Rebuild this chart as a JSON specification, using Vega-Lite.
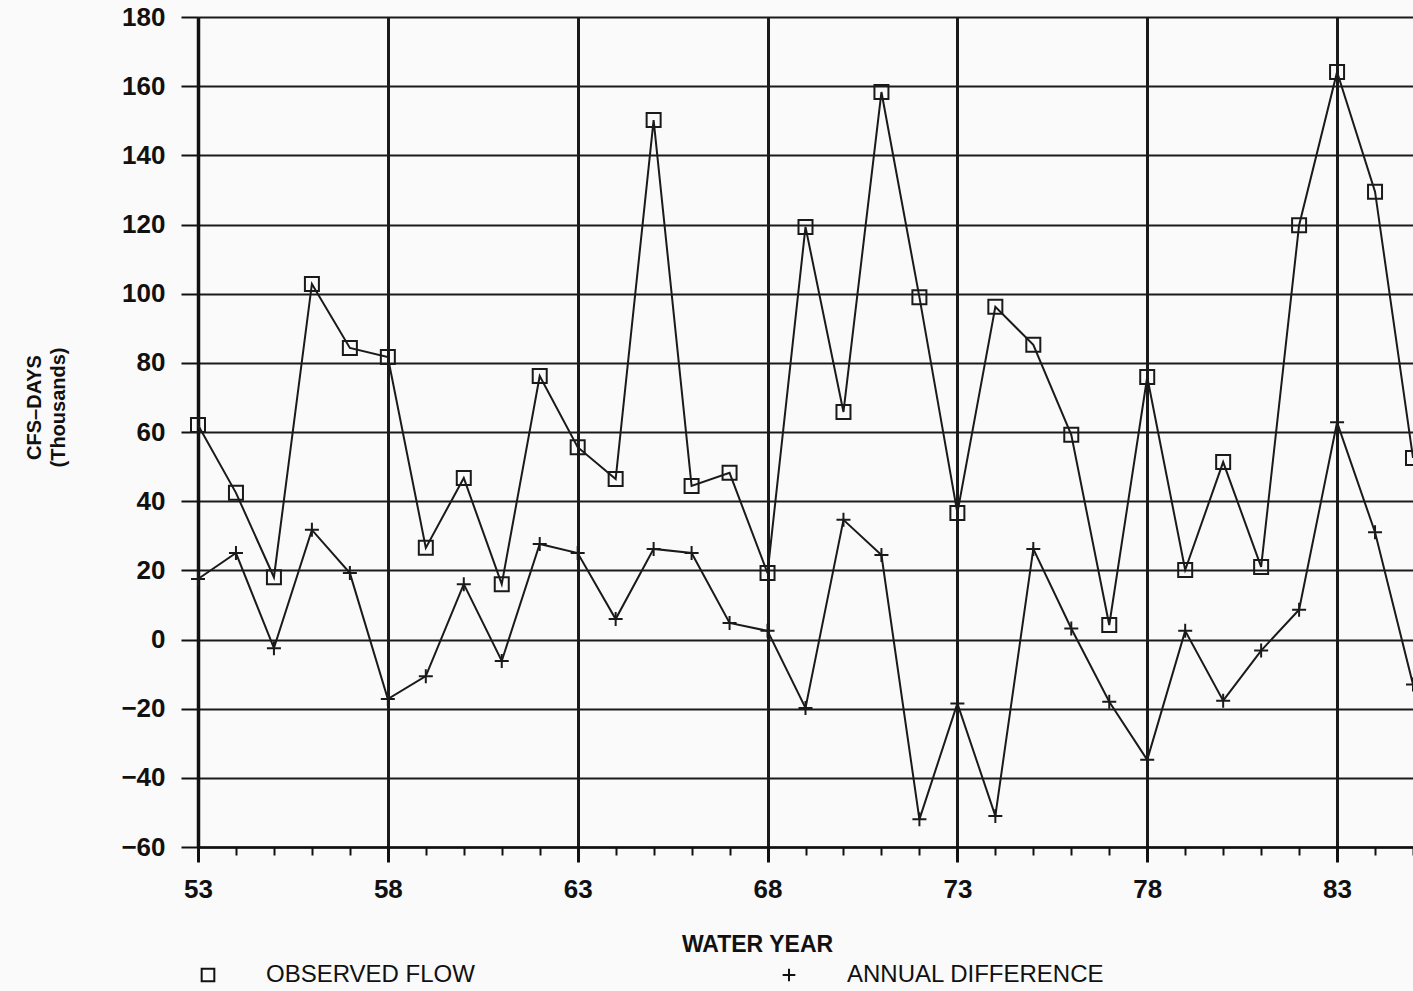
{
  "$schema": "https://vega.github.io/schema/vega-lite/v6.json",
  "width": 1215,
  "height": 830,
  "autosize": {"type": "none"},
  "padding": {"left": 198, "top": 17, "right": 0, "bottom": 144},
  "background": "#fafafa",
  "config": {
    "view": {"stroke": null},
    "font": "Liberation Sans",
    "axis": {"labelColor": "#111", "titleColor": "#111", "domainColor": "#111", "tickColor": "#111", "gridColor": "#1a1a1a"}
  },
  "data": {
    "values": [
      {"year": 53, "series": "OBSERVED FLOW", "value": 62},
      {"year": 54, "series": "OBSERVED FLOW", "value": 42.4},
      {"year": 55, "series": "OBSERVED FLOW", "value": 18},
      {"year": 56, "series": "OBSERVED FLOW", "value": 102.8},
      {"year": 57, "series": "OBSERVED FLOW", "value": 84.3},
      {"year": 58, "series": "OBSERVED FLOW", "value": 81.7},
      {"year": 59, "series": "OBSERVED FLOW", "value": 26.5},
      {"year": 60, "series": "OBSERVED FLOW", "value": 46.7},
      {"year": 61, "series": "OBSERVED FLOW", "value": 16},
      {"year": 62, "series": "OBSERVED FLOW", "value": 76.2},
      {"year": 63, "series": "OBSERVED FLOW", "value": 55.6},
      {"year": 64, "series": "OBSERVED FLOW", "value": 46.4},
      {"year": 65, "series": "OBSERVED FLOW", "value": 150.2},
      {"year": 66, "series": "OBSERVED FLOW", "value": 44.4},
      {"year": 67, "series": "OBSERVED FLOW", "value": 48.2},
      {"year": 68, "series": "OBSERVED FLOW", "value": 19.2},
      {"year": 69, "series": "OBSERVED FLOW", "value": 119.3},
      {"year": 70, "series": "OBSERVED FLOW", "value": 65.8},
      {"year": 71, "series": "OBSERVED FLOW", "value": 158.3},
      {"year": 72, "series": "OBSERVED FLOW", "value": 99},
      {"year": 73, "series": "OBSERVED FLOW", "value": 36.6},
      {"year": 74, "series": "OBSERVED FLOW", "value": 96.2},
      {"year": 75, "series": "OBSERVED FLOW", "value": 85.2},
      {"year": 76, "series": "OBSERVED FLOW", "value": 59.2},
      {"year": 77, "series": "OBSERVED FLOW", "value": 4.2},
      {"year": 78, "series": "OBSERVED FLOW", "value": 75.9},
      {"year": 79, "series": "OBSERVED FLOW", "value": 20.1},
      {"year": 80, "series": "OBSERVED FLOW", "value": 51.3},
      {"year": 81, "series": "OBSERVED FLOW", "value": 21},
      {"year": 82, "series": "OBSERVED FLOW", "value": 119.8},
      {"year": 83, "series": "OBSERVED FLOW", "value": 164.1},
      {"year": 84, "series": "OBSERVED FLOW", "value": 129.5},
      {"year": 85, "series": "OBSERVED FLOW", "value": 52.5},
      {"year": 53, "series": "ANNUAL DIFFERENCE", "value": 17.5},
      {"year": 54, "series": "ANNUAL DIFFERENCE", "value": 25},
      {"year": 55, "series": "ANNUAL DIFFERENCE", "value": -2.5},
      {"year": 56, "series": "ANNUAL DIFFERENCE", "value": 31.7},
      {"year": 57, "series": "ANNUAL DIFFERENCE", "value": 19.2},
      {"year": 58, "series": "ANNUAL DIFFERENCE", "value": -17.2},
      {"year": 59, "series": "ANNUAL DIFFERENCE", "value": -10.6},
      {"year": 60, "series": "ANNUAL DIFFERENCE", "value": 16},
      {"year": 61, "series": "ANNUAL DIFFERENCE", "value": -6.2},
      {"year": 62, "series": "ANNUAL DIFFERENCE", "value": 27.6},
      {"year": 63, "series": "ANNUAL DIFFERENCE", "value": 25},
      {"year": 64, "series": "ANNUAL DIFFERENCE", "value": 5.9},
      {"year": 65, "series": "ANNUAL DIFFERENCE", "value": 26.2},
      {"year": 66, "series": "ANNUAL DIFFERENCE", "value": 25},
      {"year": 67, "series": "ANNUAL DIFFERENCE", "value": 4.8},
      {"year": 68, "series": "ANNUAL DIFFERENCE", "value": 2.5},
      {"year": 69, "series": "ANNUAL DIFFERENCE", "value": -19.8},
      {"year": 70, "series": "ANNUAL DIFFERENCE", "value": 34.6},
      {"year": 71, "series": "ANNUAL DIFFERENCE", "value": 24.4},
      {"year": 72, "series": "ANNUAL DIFFERENCE", "value": -52},
      {"year": 73, "series": "ANNUAL DIFFERENCE", "value": -18.5},
      {"year": 74, "series": "ANNUAL DIFFERENCE", "value": -51},
      {"year": 75, "series": "ANNUAL DIFFERENCE", "value": 26.2},
      {"year": 76, "series": "ANNUAL DIFFERENCE", "value": 3.2},
      {"year": 77, "series": "ANNUAL DIFFERENCE", "value": -18},
      {"year": 78, "series": "ANNUAL DIFFERENCE", "value": -34.8},
      {"year": 79, "series": "ANNUAL DIFFERENCE", "value": 2.5},
      {"year": 80, "series": "ANNUAL DIFFERENCE", "value": -17.7},
      {"year": 81, "series": "ANNUAL DIFFERENCE", "value": -3.2},
      {"year": 82, "series": "ANNUAL DIFFERENCE", "value": 8.6},
      {"year": 83, "series": "ANNUAL DIFFERENCE", "value": 62.8},
      {"year": 84, "series": "ANNUAL DIFFERENCE", "value": 31},
      {"year": 85, "series": "ANNUAL DIFFERENCE", "value": -13}
    ]
  },
  "layer": [
    {
      "mark": {"type": "line", "color": "#1a1a1a", "strokeWidth": 2},
      "encoding": {
        "x": {
          "field": "year", "type": "quantitative",
          "scale": {"domain": [53, 85], "nice": false, "zero": false},
          "axis": {
            "orient": "bottom",
            "values": [53, 58, 63, 68, 73, 78, 83],
            "grid": true, "gridWidth": 3,
            "domainWidth": 2.5,
            "tickSize": 15, "tickWidth": 3,
            "labelFontSize": 26, "labelFontWeight": "bold", "labelPadding": 14, "labelFlush": false,
            "title": "WATER YEAR", "titleFontSize": 23, "titleFontWeight": "bold",
            "titleX": 559, "titleY": 86, "titleAlign": "center", "titleBaseline": "top"
          }
        },
        "y": {
          "field": "value", "type": "quantitative",
          "scale": {"domain": [-60, 180], "nice": false},
          "axis": {
            "values": [-60, -40, -20, 0, 20, 40, 60, 80, 100, 120, 140, 160, 180],
            "grid": true, "gridWidth": 2,
            "domainWidth": 3.5,
            "tickSize": 17, "tickWidth": 2,
            "labelFontSize": 26, "labelFontWeight": "bold", "labelPadding": 16,
            "title": ["CFS–DAYS", "(Thousands)"], "titleFontSize": 20, "titleFontWeight": "bold",
            "titleLineHeight": 24, "titlePadding": 52, "titleY": 390
          }
        },
        "detail": {"field": "series"}
      }
    },
    {
      "mark": {"type": "point", "filled": false, "color": "#1a1a1a", "strokeWidth": 2, "size": 196, "opacity": 1},
      "encoding": {
        "x": {
          "field": "year", "type": "quantitative",
          "scale": {"domain": [53, 85], "nice": false, "zero": false},
          "axis": {
            "orient": "bottom",
            "values": [53, 54, 55, 56, 57, 58, 59, 60, 61, 62, 63, 64, 65, 66, 67, 68, 69, 70, 71, 72, 73, 74, 75, 76, 77, 78, 79, 80, 81, 82, 83, 84, 85],
            "grid": false, "domain": false, "labels": false, "title": null,
            "tickSize": 8, "tickWidth": 2
          }
        },
        "y": {"field": "value", "type": "quantitative"},
        "shape": {
          "field": "series", "type": "nominal",
          "scale": {"domain": ["OBSERVED FLOW", "ANNUAL DIFFERENCE"], "range": ["square", "M-1,0H1M0,-1V1"]},
          "legend": {
            "title": null, "orient": "none", "direction": "horizontal",
            "legendX": -2, "legendY": 946, "padding": 0,
            "symbolSize": 160, "symbolStrokeWidth": 2, "symbolStrokeColor": "#111", "symbolFillColor": "transparent",
            "labelFontSize": 24, "labelColor": "#111", "labelOffset": 46, "columnPadding": 302, "labelLimit": 400
          }
        }
      }
    }
  ],
  "resolve": {"axis": {"x": "independent"}}
}
